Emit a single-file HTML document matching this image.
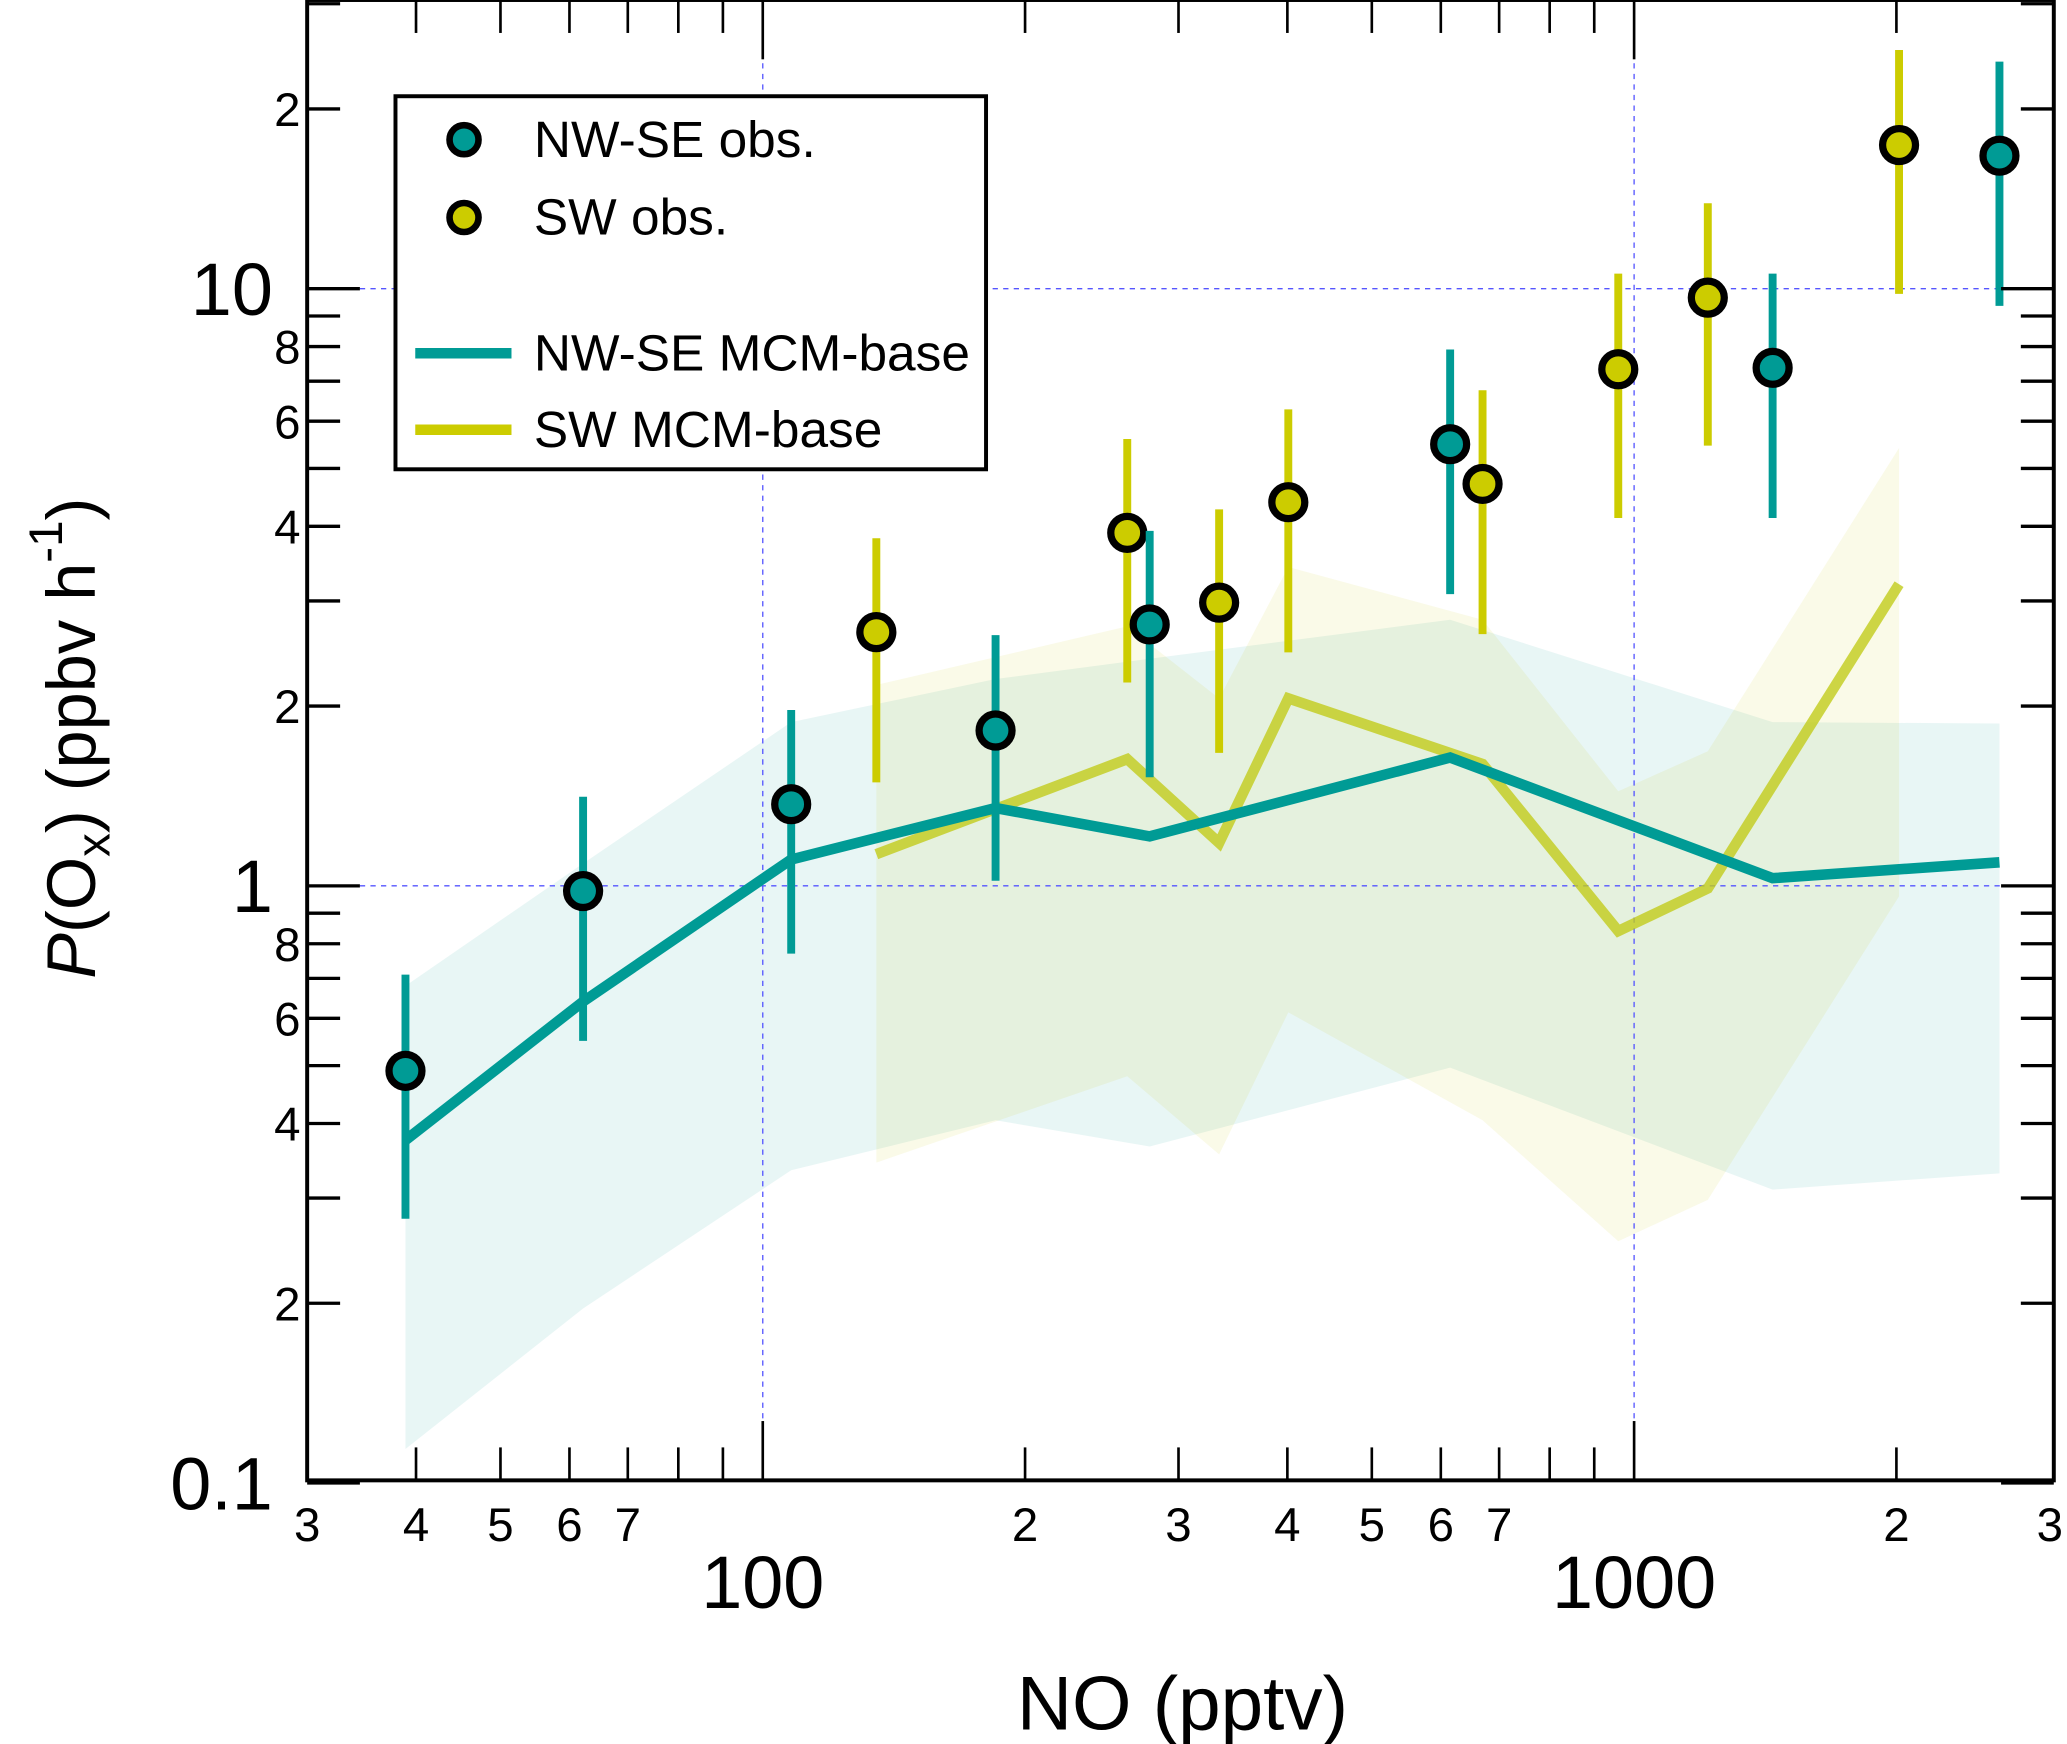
<!DOCTYPE html>
<html><head><meta charset="utf-8">
<style>
html,body{margin:0;padding:0;background:#fff;}
svg{display:block;font-family:"Liberation Sans",Arial,sans-serif;}
</style></head>
<body>
<svg id="chart" width="2067" height="1744" viewBox="0 0 1568 1323" xmlns="http://www.w3.org/2000/svg">
<g id="bands"></g>
<g id="grid"></g>
<g id="lines"></g>
<g id="obs"></g>
<g id="axes"></g>
<text x="897" y="1312" font-size="58" text-anchor="middle">NO (pptv)</text>
<text transform="translate(72,560) rotate(-90)" font-size="52" text-anchor="middle"><tspan font-style="italic">P</tspan>(O<tspan font-size="36" dy="11">x</tspan><tspan dy="-11">) (ppbv h</tspan><tspan font-size="36" dy="-25">-1</tspan><tspan dy="25">)</tspan></text>
<g>
  <rect x="300" y="73" width="448" height="283" fill="#fff" stroke="#000" stroke-width="3"/>
  <circle cx="352" cy="106" r="11" fill="#009b95" stroke="#000" stroke-width="5"/>
  <text x="405" y="119" font-size="39">NW-SE obs.</text>
  <circle cx="352" cy="165" r="11" fill="#cccc00" stroke="#000" stroke-width="5"/>
  <text x="405" y="178" font-size="39">SW obs.</text>
  <line x1="315" y1="268" x2="388" y2="268" stroke="#009b95" stroke-width="8"/>
  <text x="405" y="281" font-size="39">NW-SE MCM-base</text>
  <line x1="315" y1="326" x2="388" y2="326" stroke="#cccc00" stroke-width="8"/>
  <text x="405" y="339" font-size="39">SW MCM-base</text>
</g>
</svg>
<script>
const NS="http://www.w3.org/2000/svg";
// NW-SE observations
const nwX=[38.9,62.2,107.8,185,278,615,1442,2626];
const nwY=[0.49,0.98,1.37,1.82,2.74,5.49,7.37,16.7];
const nwHi=[0.71,1.41,1.97,2.63,3.93,7.91,10.6,24.0];
const nwLo=[0.277,0.55,0.77,1.02,1.52,3.08,4.13,9.36];
// NW-SE model
const nwModel=[0.375,0.64,1.107,1.35,1.21,1.64,1.03,1.095];
const nwModelHi=[0.68,1.09,1.88,2.22,2.4,2.79,1.88,1.87];
const nwModelLo=[0.114,0.196,0.334,0.405,0.366,0.496,0.31,0.33];
// SW observations
const swX=[135,262,334,401,670,959,1215,2014];
const swY=[2.66,3.9,2.98,4.39,4.71,7.33,9.66,17.4];
const swHi=[3.82,5.6,4.27,6.28,6.76,10.6,13.9,25.1];
const swLo=[1.49,2.19,1.67,2.46,2.64,4.13,5.46,9.8];
// SW model
const swModel=[1.13,1.63,1.18,2.06,1.6,0.84,0.99,3.2];
const swModelHi=[2.17,2.72,2.06,3.42,2.79,1.44,1.68,5.41];
const swModelLo=[0.344,0.48,0.355,0.614,0.405,0.254,0.298,0.96];
// ticks
const xMinorVals=[40,50,60,70,80,90,200,300,400,500,600,700,800,900,2000];
const xMinorLabels=["3","4","5","6","7","2","3","4","5","6","7","2","3"];
const xMinorLabelVals=[30,40,50,60,70,200,300,400,500,600,700,2000,3000];
const xMajorVals=[100,1000];
const xMajorLabels=["100","1000"];
const yMajorVals=[0.1,1,10];
const yMajorLabels=["0.1","1","10"];
const yMinorLabelVals=[0.2,0.4,0.6,0.8,2,4,6,8,20];
const yMinorLabels=["2","4","6","8","2","4","6","8","2"];

const L=233,R=1558,T=0,B=1123;
function xs(v){return 233+661*Math.log10(v/30);}
function ys(v){return 672-453*Math.log10(v);}
function mk(tag,attrs,parent){const e=document.createElementNS(NS,tag);for(const k in attrs)e.setAttribute(k,attrs[k]);parent.appendChild(e);return e;}
const gB=document.getElementById('bands'),gG=document.getElementById('grid'),gL=document.getElementById('lines'),gO=document.getElementById('obs'),gA=document.getElementById('axes');

function band(xv,hi,lo,color,name){
  let p=xv.map((x,i)=>xs(x)+','+ys(hi[i]));
  p=p.concat(xv.map((x,i)=>xs(x)+','+ys(lo[i])).reverse());
  const e=mk('polygon',{points:p.join(' '),fill:color,'fill-opacity':'0.09'},gB);
  
  
}
band(nwX,nwModelHi,nwModelLo,'#009b95','nwse-model-band');
band(swX,swModelHi,swModelLo,'#cccc00','sw-model-band');

xMajorVals.forEach(v=>{const e=mk('line',{x1:xs(v),x2:xs(v),y1:T,y2:B,stroke:'#5555ff','stroke-width':1,'stroke-dasharray':'4,4'},gG);

});
[1,10].forEach(v=>{const e=mk('line',{x1:L,x2:R,y1:ys(v),y2:ys(v),stroke:'#5555ff','stroke-width':1,'stroke-dasharray':'4,4'},gG);

});

function line(xv,yv,color,op,name){
  const e=mk('polyline',{points:xv.map((x,i)=>xs(x)+','+ys(yv[i])).join(' '),fill:'none',stroke:color,'stroke-width':8,'stroke-opacity':op,'stroke-linejoin':'miter'},gL);
  
  
}
line(swX,swModel,'#c2cc1a',0.8,'sw-model-line');
line(nwX,nwModel,'#009b95',1,'nwse-model-line');

function obs(xv,yv,hi,lo,color,name){
  xv.forEach((x,i)=>{
    const eb=mk('line',{x1:xs(x),x2:xs(x),y1:ys(hi[i]),y2:ys(lo[i]),stroke:color,'stroke-width':6},gO);
    
    
  });
  xv.forEach((x,i)=>{
    const c=mk('circle',{cx:xs(x),cy:ys(yv[i]),r:12.5,fill:color,stroke:'#000','stroke-width':5.5},gO);
    
    
  });
}
obs(swX,swY,swHi,swLo,'#cccc00','sw-obs');
obs(nwX,nwY,nwHi,nwLo,'#009b95','nwse-obs');

const fr=mk('rect',{x:L,y:T,width:R-L,height:B-T,fill:'none',stroke:'#000','stroke-width':3},gA);


xMinorVals.forEach(v=>{const x=xs(v);
  mk('line',{x1:x,x2:x,y1:B,y2:B-25,stroke:'#000','stroke-width':2},gA);
  mk('line',{x1:x,x2:x,y1:T,y2:T+25,stroke:'#000','stroke-width':2},gA);});
xMajorVals.forEach((v,i)=>{const x=xs(v);
  mk('line',{x1:x,x2:x,y1:B,y2:B-45,stroke:'#000','stroke-width':2},gA);
  mk('line',{x1:x,x2:x,y1:T,y2:T+45,stroke:'#000','stroke-width':2},gA);
  const t=mk('text',{x:x,y:1220,'font-size':56,'text-anchor':'middle'},gA);t.textContent=xMajorLabels[i];
  
  });
xMinorLabelVals.forEach((v,i)=>{const t=mk('text',{x:xs(v),y:1169,'font-size':36,'text-anchor':'middle'},gA);t.textContent=xMinorLabels[i];
  
  });
for(let d=0.1;d<20;d*=10){for(let k=2;k<=9;k++){const v=d*k;if(v>30)continue;const y=ys(v);
  mk('line',{x1:L,x2:L+25,y1:y,y2:y,stroke:'#000','stroke-width':2.5},gA);
  mk('line',{x1:R,x2:R-25,y1:y,y2:y,stroke:'#000','stroke-width':2.5},gA);}}
yMajorVals.forEach((v,i)=>{const y=ys(v);
  mk('line',{x1:L,x2:L+40,y1:y,y2:y,stroke:'#000','stroke-width':2.5},gA);
  mk('line',{x1:R,x2:R-40,y1:y,y2:y,stroke:'#000','stroke-width':2.5},gA);
  const t=mk('text',{x:207,y:y+20,'font-size':56,'text-anchor':'end'},gA);t.textContent=yMajorLabels[i];
  
  });
yMinorLabelVals.forEach((v,i)=>{const t=mk('text',{x:228,y:ys(v)+13,'font-size':36,'text-anchor':'end'},gA);t.textContent=yMinorLabels[i];
  
  });
</script>
</body></html>
